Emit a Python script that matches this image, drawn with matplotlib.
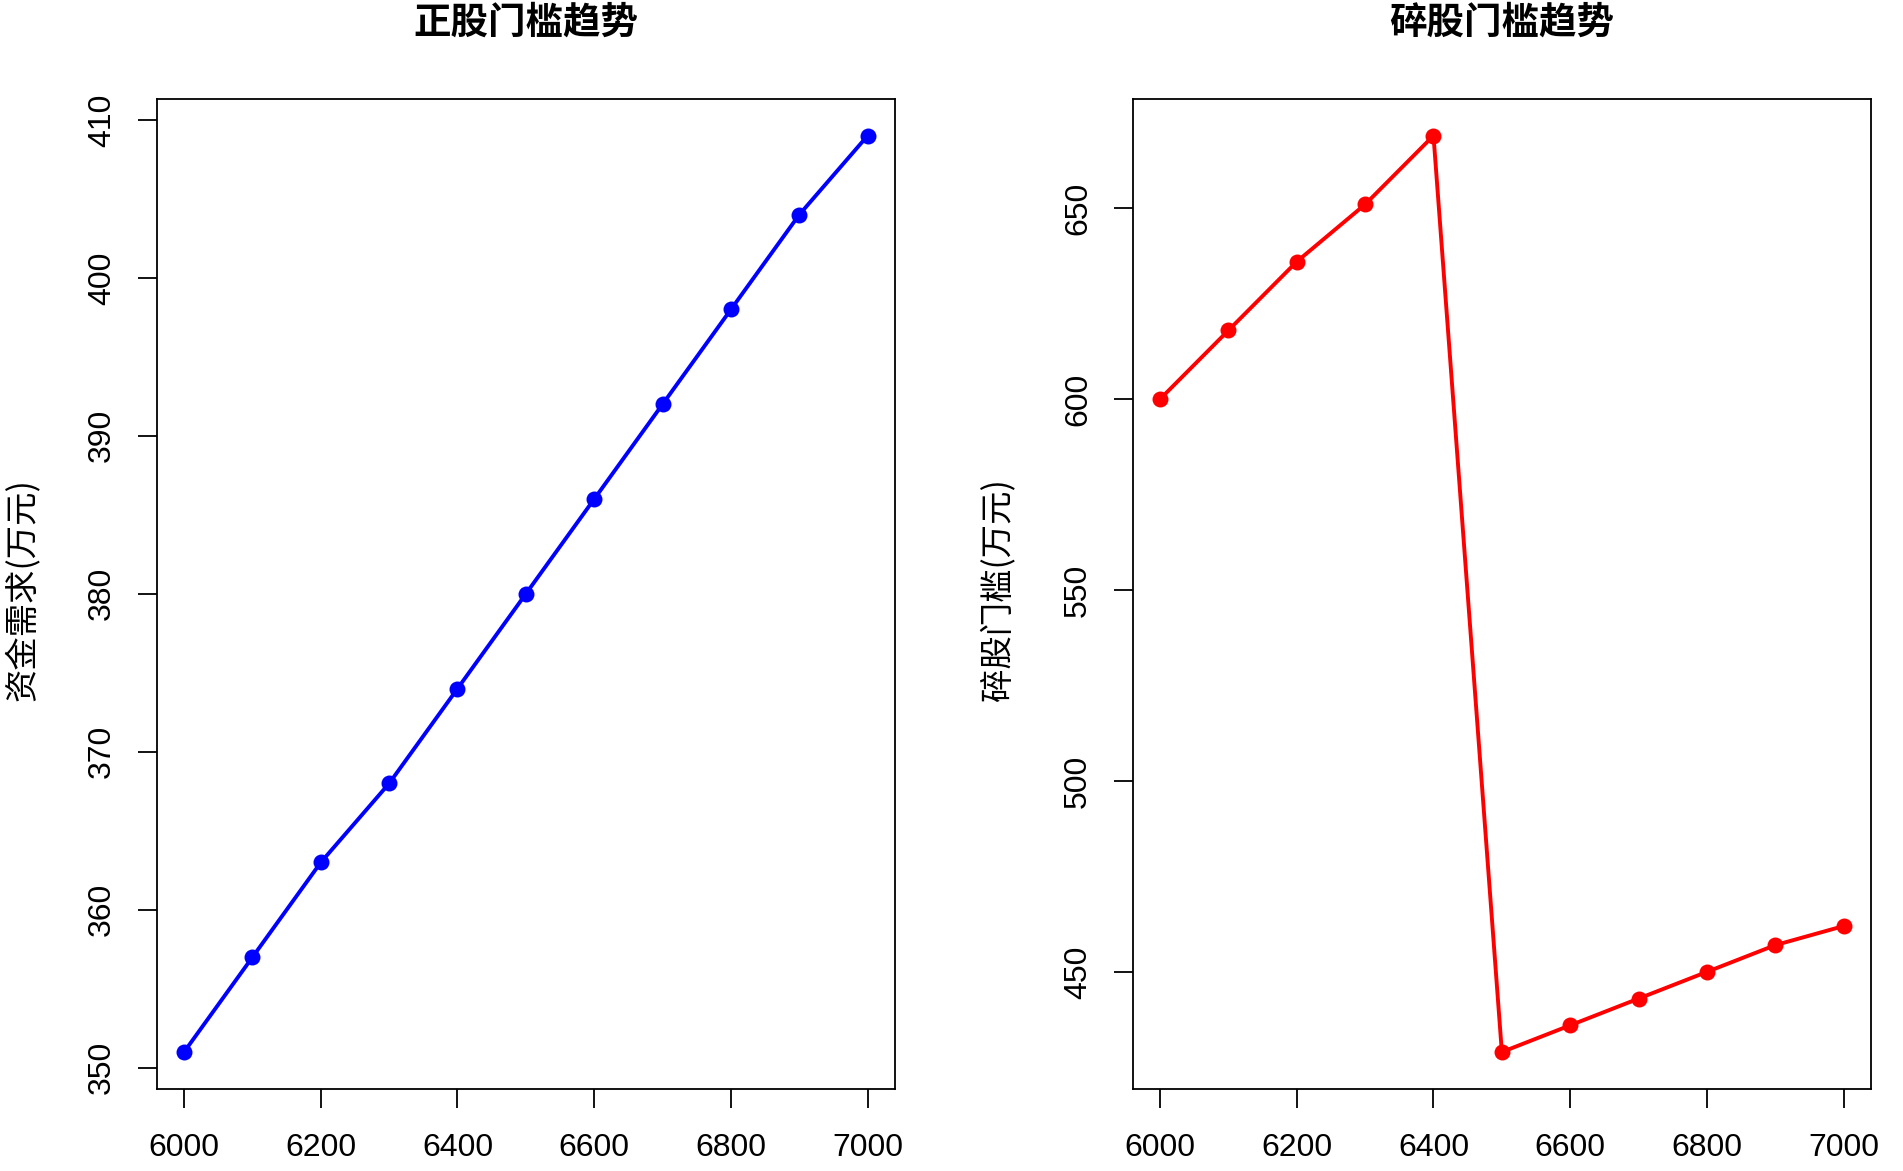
import numpy as np
import matplotlib
matplotlib.use('Agg')
import matplotlib.pyplot as plt

plt.rcParams['font.family'] = ['Liberation Sans', 'Noto Sans CJK SC', 'DejaVu Sans']

# price levels on the x axis
price = [6000, 6100, 6200, 6300, 6400, 6500, 6600, 6700, 6800, 6900, 7000]
# 正股 threshold (万元)
zhenggu = [351, 357, 363, 368, 374, 380, 386, 392, 398, 404, 409]
# 碎股 threshold (万元)
suigu = [600, 618, 636, 651, 669, 429, 436, 443, 450, 457, 462]

titles = ['正股门槛趋势', '碎股门槛趋势']
ylabels = ['资金需求(万元)', '碎股门槛(万元)']
xticks = [6000, 6200, 6400, 6600, 6800, 7000]
yticks_left = [350, 360, 370, 380, 390, 400, 410]
yticks_right = [450, 500, 550, 600, 650]

W, H = 1903, 1171
fig = plt.figure(figsize=(W / 100, H / 100), dpi=100)

# box positions in pixels (left, top, right, bottom)
boxes = [(156.7, 99, 895, 1088.7), (1132.7, 99, 1871, 1088.7)]
series = [zhenggu, suigu]
colors = ['#0000FF', '#FF0000']
yticks = [yticks_left, yticks_right]
ylabel_x = [22, 998]


def r_lim(vals):
    # R style 4% padding
    lo, hi = min(vals), max(vals)
    pad = (hi - lo) * 0.04
    return lo - pad, hi + pad


for i in range(2):
    l, t, r, b = boxes[i]
    ax = fig.add_axes([l / W, 1 - b / H, (r - l) / W, (b - t) / H])
    ax.plot(price, series[i], color=colors[i], lw=2.8, marker='o',
            markersize=11.5, markeredgewidth=0)
    ax.set_xlim(*r_lim(price))
    ax.set_ylim(*r_lim(series[i]))
    ax.set_xticks(xticks)
    ax.set_yticks(yticks[i])
    ax.set_xticklabels([str(v) for v in xticks])
    ax.set_yticklabels([str(v) for v in yticks[i]], rotation=90, va='center')
    ax.tick_params(axis='both', direction='out', length=13.5, width=1.3,
                   labelsize=23, colors='black')
    ax.tick_params(axis='x', pad=18.5)
    ax.tick_params(axis='y', pad=15)
    for sp in ax.spines.values():
        sp.set_linewidth(1.3)
        sp.set_color('black')

    # title and y label placed like the R output
    cx = (l + r) / 2 / W
    fig.text(cx, 1 - 22.5 / H, titles[i], ha='center', va='center',
             fontsize=27, fontweight='bold', family=['Noto Sans CJK SC'])
    fig.text(ylabel_x[i] / W, 1 - 590 / H, ylabels[i], ha='center', va='center',
             rotation=90, fontsize=24, family=['Noto Sans CJK SC', 'DejaVu Sans'])

fig.savefig('out.png', dpi=100, facecolor='white')
